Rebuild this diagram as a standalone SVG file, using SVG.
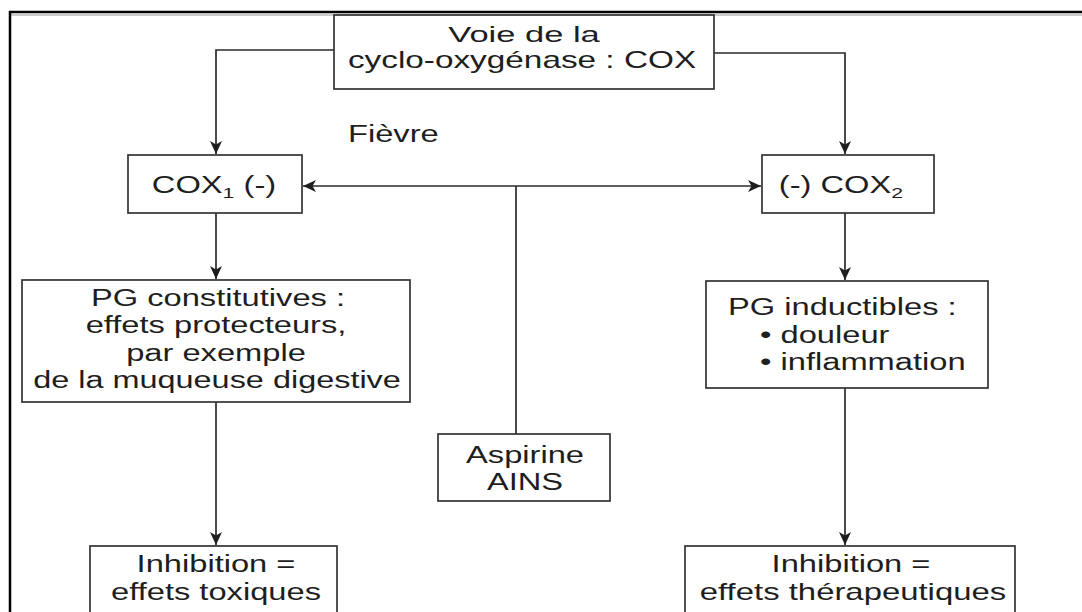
<svg xmlns="http://www.w3.org/2000/svg" width="1082" height="612" viewBox="0 0 1082 612">
<style>
.box{fill:#fff;stroke:#333;stroke-width:1.7}
.t{font-family:"Liberation Sans",Arial,sans-serif;font-size:23px;fill:#1e1e1e}
.c{text-anchor:middle}
.ln{fill:none;stroke:#2a2a2a;stroke-width:1.7}
</style>
<defs>
<marker id="ah" markerUnits="userSpaceOnUse" markerWidth="14" markerHeight="14" refX="13" refY="7" orient="auto">
<path d="M0,1 L13,7 L0,13 L3.5,7 z" fill="#1e1e1e"/>
</marker>
</defs>
<rect width="1082" height="612" fill="#fff"/>
<g id="frame">
<line x1="9" y1="12" x2="1082" y2="12" stroke="#000" stroke-width="2.5"/>
<line x1="11" y1="15" x2="1082" y2="15" stroke="#ccc" stroke-width="2"/>
<line x1="10" y1="11" x2="10" y2="612" stroke="#000" stroke-width="2.5"/>
</g>
<g id="connectors">
<path class="ln" d="M334,50 H216 V154" marker-end="url(#ah)"/>
<path class="ln" d="M714,53 H845 V154" marker-end="url(#ah)"/>
<path class="ln" d="M216,213 V279" marker-end="url(#ah)"/>
<path class="ln" d="M845,213 V280" marker-end="url(#ah)"/>
<path class="ln" d="M516,186 H303" marker-end="url(#ah)"/>
<path class="ln" d="M516,186 H761" marker-end="url(#ah)"/>
<path class="ln" d="M516,186 V434"/>
<path class="ln" d="M216,402 V545" marker-end="url(#ah)"/>
<path class="ln" d="M845,388 V545" marker-end="url(#ah)"/>
</g>
<g id="cox">
<rect class="box" x="334" y="15" width="380" height="74"/>
<text class="t c" transform="translate(524,0) scale(1.5,1)" x="0" y="42">Voie de la</text>
<text class="t c" transform="translate(522,0) scale(1.45,1)" x="0" y="68">cyclo-oxygénase : COX</text>
</g>
<g id="fievre">
<text class="t" transform="translate(348,0) scale(1.42,1)" x="0" y="142">Fièvre</text>
</g>
<g id="cox1">
<rect class="box" x="128" y="155" width="174" height="58"/>
<text class="t c" transform="translate(214,0) scale(1.42,1)" x="0" y="193">COX<tspan font-size="15" dy="5">1</tspan><tspan dy="-5"> (-)</tspan></text>
</g>
<g id="cox2">
<rect class="box" x="762" y="155" width="172" height="58"/>
<text class="t c" transform="translate(841,0) scale(1.42,1)" x="0" y="193">(-) COX<tspan font-size="15" dy="5">2</tspan></text>
</g>
<g id="pgconst">
<rect class="box" x="22" y="280" width="388" height="122"/>
<text class="t c" transform="translate(218,0) scale(1.42,1)" x="0" y="306">PG constitutives :</text>
<text class="t c" transform="translate(216,0) scale(1.42,1)" x="0" y="333">effets protecteurs,</text>
<text class="t c" transform="translate(216,0) scale(1.42,1)" x="0" y="361">par exemple</text>
<text class="t c" transform="translate(217,0) scale(1.41,1)" x="0" y="388">de la muqueuse digestive</text>
</g>
<g id="pgind">
<rect class="box" x="706" y="281" width="282" height="107"/>
<text class="t" transform="translate(728,0) scale(1.42,1)" x="0" y="315">PG inductibles :</text>
<text class="t" transform="translate(760,0) scale(1.42,1)" x="0" y="343">• douleur</text>
<text class="t" transform="translate(760,0) scale(1.42,1)" x="0" y="370">• inflammation</text>
</g>
<g id="aspirine">
<rect class="box" x="438" y="434" width="172" height="67"/>
<text class="t c" transform="translate(525,0) scale(1.42,1)" x="0" y="463">Aspirine</text>
<text class="t c" transform="translate(525,0) scale(1.42,1)" x="0" y="490">AINS</text>
</g>
<g id="inhib1">
<rect class="box" x="90" y="546" width="247" height="80"/>
<text class="t c" transform="translate(216,0) scale(1.42,1)" x="0" y="572">Inhibition =</text>
<text class="t c" transform="translate(216,0) scale(1.42,1)" x="0" y="600">effets toxiques</text>
</g>
<g id="inhib2">
<rect class="box" x="685" y="546" width="330" height="80"/>
<text class="t c" transform="translate(851,0) scale(1.42,1)" x="0" y="572">Inhibition =</text>
<text class="t c" transform="translate(853,0) scale(1.43,1)" x="0" y="600">effets thérapeutiques</text>
</g>
</svg>
